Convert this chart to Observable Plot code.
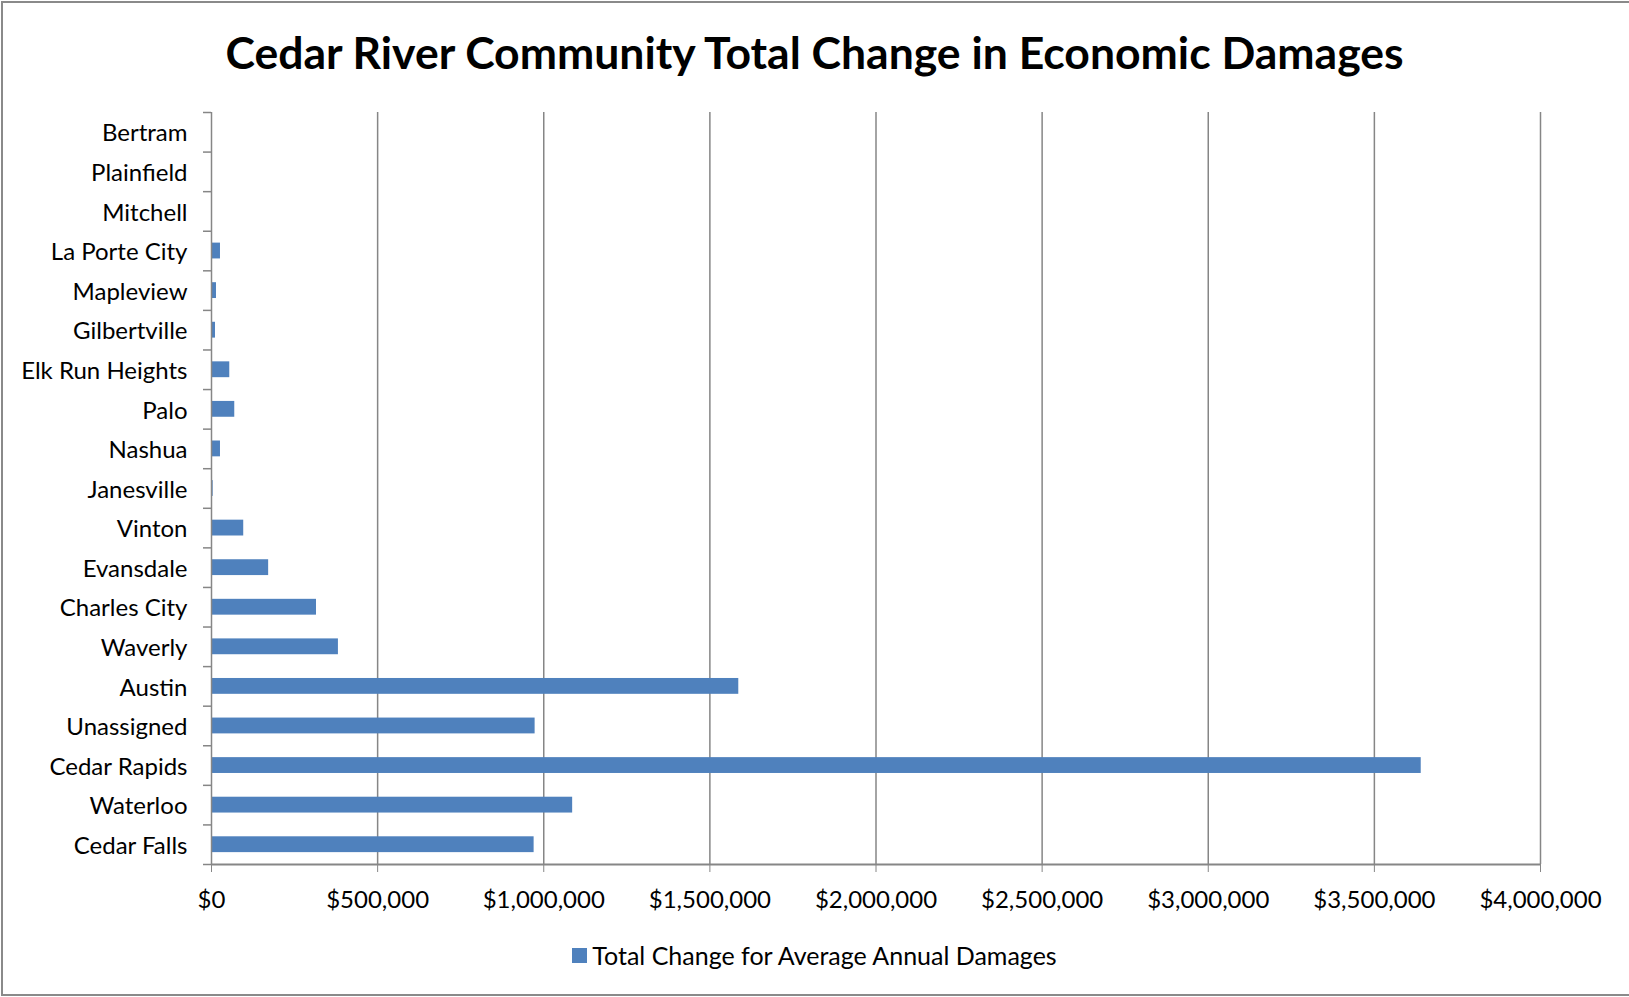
<!DOCTYPE html>
<html>
<head>
<meta charset="utf-8">
<script src="https://cdn.jsdelivr.net/npm/d3@7"></script>
<script src="https://cdn.jsdelivr.net/npm/@observablehq/plot@0.6"></script>
<style>
  html, body { margin: 0; padding: 0; background: #fff; }
  body { width: 1629px; height: 997px; position: relative; overflow: hidden; font-family: Lato, "Open Sans", sans-serif; color: #000; }
  #border { position: absolute; left: 1px; top: 1px; width: 1640px; height: 995px; box-sizing: border-box; border: 2px solid #8a8a8a; border-right: none; }
  #title { position: absolute; left: 0; top: 29px; width: 1629px; text-align: center; font-weight: bold; font-size: 44.5px; line-height: 46px; }
  #chart { position: absolute; left: 0; top: 90px; }
  #legend { position: absolute; left: 0; top: 941px; width: 1629px; display: flex; justify-content: center; align-items: center; font-size: 25px; line-height: 28px; }
  #legend .sw { width: 15px; height: 15px; background: #4F81BD; margin-right: 5px; }
</style>
</head>
<body>
<div id="border"></div>
<div id="title">Cedar River Community Total Change in Economic Damages</div>
<div id="chart"></div>
<div id="legend"><span class="sw"></span><span id="legendText"></span></div>
<script>
const communities = ["Bertram","Plainfield","Mitchell","La Porte City","Mapleview","Gilbertville","Elk Run Heights","Palo","Nashua","Janesville","Vinton","Evansdale","Charles City","Waverly","Austin","Unassigned","Cedar Rapids","Waterloo","Cedar Falls"];
const damages = [0,0,0,27000,15000,12000,55000,70000,27000,5000,97000,172000,316000,382000,1587000,974000,3641000,1087000,971000];
const xTicks = [0,500000,1000000,1500000,2000000,2500000,3000000,3500000,4000000];
const seriesName = "Total Change for Average Annual Damages";

document.getElementById("legendText").textContent = seriesName;

const data = communities.map((c, i) => ({community: c, value: damages[i]}));

const W = 1629, H = 820, mL = 211, mR = 89, mT = 22, mB = 46;
const step = (H - mT - mB) / communities.length;
const plotW = W - mL - mR;
const grey = "#868686";
const fmt = d => "$" + d3.format(",")(d);

const chart = Plot.plot({
  width: W, height: H,
  marginLeft: mL, marginRight: mR, marginTop: mT, marginBottom: mB,
  style: {fontFamily: "Lato, 'Open Sans', sans-serif", fontSize: "24px", color: "#000", background: "transparent", overflow: "visible"},
  x: {domain: [0, 4000000]},
  y: {domain: communities, paddingInner: 0.6, paddingOuter: 0.3, align: 0.5, round: false},
  marks: [
    Plot.ruleX(xTicks.slice(1), {stroke: grey, strokeWidth: 1.5}),
    Plot.barX(data, {y: "community", x: "value", fill: "#4F81BD"}),
    Plot.ruleX([0], {stroke: grey, strokeWidth: 1.5}),
    Plot.ruleY([communities[communities.length - 1]], {dy: step / 2, stroke: grey, strokeWidth: 2}),
    Plot.tickY(communities, {y: d => d, dy: step / 2, insetLeft: -8, insetRight: plotW, stroke: grey, strokeWidth: 1.5}),
    Plot.tickY([communities[0]], {y: d => d, dy: -step / 2, insetLeft: -8, insetRight: plotW, stroke: grey, strokeWidth: 1.5}),
    Plot.axisX({ticks: xTicks, tickFormat: fmt, tickSize: 8, tickPadding: 18, stroke: grey, fill: "#000", label: null}),
    Plot.axisY({tickSize: 0, tickPadding: 24, dy: 1.5, fill: "#000", label: null})
  ]
});
document.getElementById("chart").appendChild(chart);
</script>
</body>
</html>
